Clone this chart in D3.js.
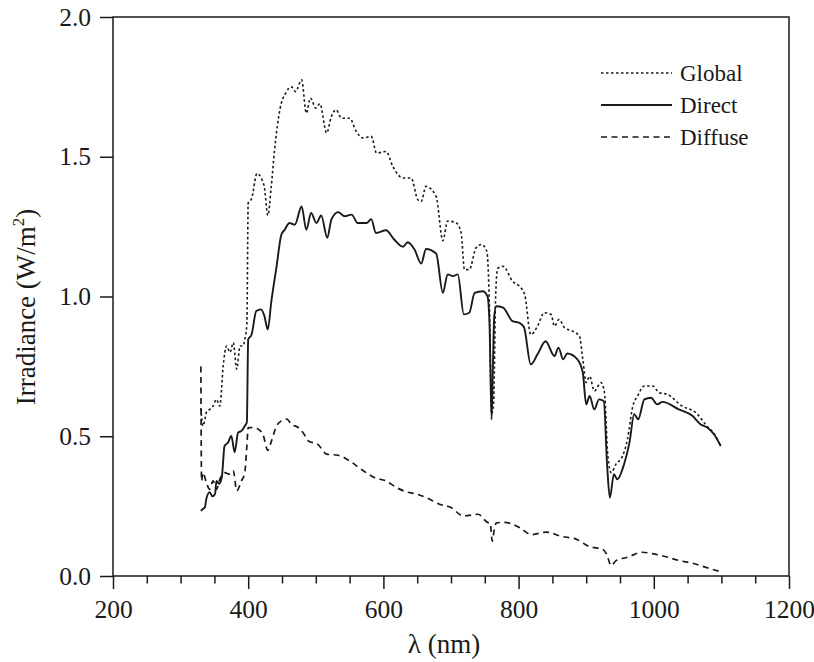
<!DOCTYPE html>
<html>
<head>
<meta charset="utf-8">
<script src="https://cdn.jsdelivr.net/npm/d3@7"></script>
<style>
  html, body { margin: 0; padding: 0; background: #fff; }
  svg { display: block; }
  svg text { font-family: "Liberation Serif", "Tinos", "Times New Roman", "DejaVu Serif", serif !important; fill: #1a1a1a; }
</style>
</head>
<body>
<svg id="chart" width="814" height="662"></svg>
<script>
// ---- Data (wavelength nm, irradiance W/m2) ----
const globalData = [[330,0.6],[333,0.537],[336,0.56],[338,0.585],[343,0.596],[348,0.608],[353,0.632],[358,0.608],[363,0.751],[368,0.823],[373,0.8],[378,0.835],[383,0.74],[388,0.823],[392,0.823],[395,0.846],[398,0.9],[400,1.335],[405,1.35],[413,1.44],[420,1.42],[424,1.39],[429,1.29],[434,1.39],[439,1.525],[447,1.67],[456,1.73],[464,1.75],[470,1.733],[479,1.775],[486,1.656],[492,1.71],[500,1.674],[506,1.69],[516,1.585],[523,1.644],[530,1.668],[538,1.638],[550,1.638],[560,1.59],[570,1.567],[582,1.573],[590,1.513],[604,1.519],[614,1.465],[629,1.424],[641,1.424],[651,1.346],[656,1.34],[663,1.394],[678,1.358],[688,1.2],[695,1.27],[708,1.263],[715,1.227],[720,1.096],[727,1.096],[737,1.174],[745,1.186],[753,1.162],[757,0.95],[760,0.58],[763,0.62],[766,1.0],[769,1.1],[777,1.108],[791,1.055],[801,1.037],[809,1.007],[818,0.864],[828,0.894],[838,0.942],[848,0.936],[853,0.894],[860,0.918],[868,0.888],[880,0.876],[890,0.858],[895,0.775],[900,0.692],[905,0.715],[912,0.662],[922,0.692],[927,0.656],[932,0.43],[937,0.37],[944,0.4],[954,0.43],[961,0.489],[969,0.608],[976,0.644],[986,0.68],[998,0.68],[1008,0.656],[1020,0.65],[1042,0.608],[1062,0.585],[1079,0.535],[1089,0.51],[1099,0.465]];

const directData = [[330,0.233],[333,0.24],[336,0.246],[338,0.275],[343,0.3],[347,0.285],[351,0.293],[353,0.34],[357,0.33],[361,0.354],[365,0.465],[370,0.477],[375,0.501],[380,0.443],[385,0.513],[390,0.519],[395,0.537],[398,0.55],[400,0.846],[405,0.864],[412,0.948],[419,0.954],[424,0.93],[429,0.882],[434,0.978],[442,1.108],[449,1.221],[454,1.239],[461,1.263],[469,1.257],[479,1.322],[486,1.239],[493,1.299],[501,1.263],[508,1.29],[517,1.21],[523,1.275],[533,1.302],[543,1.287],[553,1.293],[562,1.263],[575,1.263],[582,1.277],[589,1.227],[604,1.237],[616,1.204],[629,1.178],[636,1.194],[646,1.168],[656,1.118],[663,1.17],[678,1.154],[688,1.013],[695,1.079],[703,1.073],[710,1.079],[719,0.936],[727,0.942],[735,1.013],[747,1.019],[754,1.001],[757,0.9],[760,0.56],[762,0.75],[764,0.93],[767,0.965],[777,0.96],[791,0.912],[801,0.906],[808,0.89],[818,0.757],[828,0.793],[840,0.84],[853,0.787],[859,0.817],[866,0.775],[872,0.796],[887,0.775],[895,0.727],[900,0.614],[905,0.644],[912,0.596],[919,0.632],[926,0.626],[931,0.394],[935,0.28],[941,0.364],[946,0.346],[956,0.4],[964,0.477],[971,0.579],[977,0.561],[986,0.632],[996,0.638],[1005,0.614],[1013,0.623],[1037,0.596],[1057,0.573],[1069,0.543],[1079,0.531],[1089,0.507],[1099,0.465]];

const diffuseData = [[330,0.75],[331,0.34],[333,0.37],[338,0.335],[343,0.31],[348,0.34],[353,0.31],[358,0.346],[365,0.37],[373,0.364],[378,0.376],[383,0.305],[390,0.34],[395,0.37],[398,0.465],[400,0.531],[407,0.531],[415,0.525],[422,0.505],[429,0.45],[434,0.48],[442,0.537],[449,0.555],[457,0.561],[464,0.543],[474,0.531],[482,0.51],[489,0.483],[503,0.471],[516,0.436],[533,0.432],[550,0.412],[567,0.382],[587,0.352],[604,0.34],[619,0.317],[634,0.301],[646,0.295],[663,0.281],[683,0.257],[700,0.245],[718,0.215],[740,0.221],[754,0.192],[758,0.19],[761,0.125],[764,0.165],[767,0.19],[779,0.192],[801,0.174],[819,0.148],[841,0.157],[863,0.142],[885,0.132],[905,0.105],[924,0.096],[930,0.079],[937,0.037],[944,0.055],[961,0.067],[983,0.085],[998,0.08],[1018,0.069],[1038,0.055],[1057,0.046],[1077,0.031],[1099,0.015]];

const xMajorTicks = [200, 400, 600, 800, 1000, 1200];
const xMinorTicks = [250, 300, 350, 450, 500, 550, 650, 700, 750, 850, 900, 950, 1050, 1100, 1150];
const yTicks = [0.0, 0.5, 1.0, 1.5, 2.0];
const seriesNames = ["Global", "Direct", "Diffuse"];

// ---- Layout ----
const W = 814, H = 662;
const margin = { left: 113, right: W - 789, top: 17, bottom: H - 576 };
const svg = d3.select("#chart");

const x = d3.scaleLinear().domain([200, 1200]).range([margin.left, W - margin.right]);
const y = d3.scaleLinear().domain([0, 2.0]).range([H - margin.bottom, margin.top]);

const styles = {
  Global:  { dash: "2.5,2.5", width: 1.6 },
  Direct:  { dash: null,      width: 1.9 },
  Diffuse: { dash: "6,4.5",   width: 1.7 }
};

// ---- Curves ----
const line = d3.line().x(d => x(d[0])).y(d => y(d[1])).curve(d3.curveMonotoneX);
const seriesData = { Global: globalData, Direct: directData, Diffuse: diffuseData };
const g = svg.append("g");
seriesNames.forEach(name => {
  const p = g.append("path")
    .datum(seriesData[name])
    .attr("fill", "none")
    .attr("stroke", "#1a1a1a")
    .attr("stroke-width", styles[name].width)
    .attr("stroke-linejoin", "round")
    .attr("d", line);
  if (styles[name].dash) p.attr("stroke-dasharray", styles[name].dash);
});

// ---- Frame ----
const axisColor = "#1a1a1a";
svg.append("rect")
  .attr("x", x(200)).attr("y", y(2.0))
  .attr("width", x(1200) - x(200)).attr("height", y(0) - y(2.0))
  .attr("fill", "none").attr("stroke", axisColor).attr("stroke-width", 1.5);

// ---- X axis ----
const xAxis = d3.axisBottom(x).tickValues(xMajorTicks).tickSize(13).tickPadding(11).tickFormat(d3.format("d"));
const xg = svg.append("g").attr("transform", `translate(0,${y(0)})`).call(xAxis);
xg.select(".domain").remove();
xg.selectAll("line").attr("stroke", axisColor).attr("stroke-width", 1.5);
xg.selectAll("text").attr("font-size", 25.5).attr("fill", "#1a1a1a");

const xMinor = d3.axisBottom(x).tickValues(xMinorTicks).tickSize(7.5).tickFormat("");
const xmg = svg.append("g").attr("transform", `translate(0,${y(0)})`).call(xMinor);
xmg.select(".domain").remove();
xmg.selectAll("line").attr("stroke", axisColor).attr("stroke-width", 1.5);

// ---- Y axis ----
const yAxis = d3.axisLeft(y).tickValues(yTicks).tickSize(13).tickPadding(9).tickFormat(d3.format(".1f"));
const yg = svg.append("g").attr("transform", `translate(${x(200)},0)`).call(yAxis);
yg.select(".domain").remove();
yg.selectAll("line").attr("stroke", axisColor).attr("stroke-width", 1.5);
yg.selectAll("text").attr("font-size", 25.5).attr("fill", "#1a1a1a");

// ---- Axis titles ----
svg.append("text")
  .attr("x", 444).attr("y", 653)
  .attr("text-anchor", "middle").attr("font-size", 27)
  .text("λ (nm)");

const yt = svg.append("text")
  .attr("transform", `translate(35,307) rotate(-90)`)
  .attr("text-anchor", "middle").attr("font-size", 27);
yt.append("tspan").text("Irradiance (W/m");
yt.append("tspan").attr("font-size", 17).attr("dy", -11).text("2");
yt.append("tspan").attr("dy", 11).text(")");

// ---- Legend ----
const legend = svg.append("g");
seriesNames.forEach((name, i) => {
  const ly = 73 + i * 32;
  const l = legend.append("line")
    .attr("x1", 601).attr("x2", 672).attr("y1", ly).attr("y2", ly)
    .attr("stroke", "#1a1a1a").attr("stroke-width", styles[name].width);
  if (styles[name].dash) l.attr("stroke-dasharray", styles[name].dash);
  legend.append("text")
    .attr("x", 680).attr("y", ly + 8)
    .attr("font-size", 23)
    .text(name);
});
</script>
</body>
</html>
